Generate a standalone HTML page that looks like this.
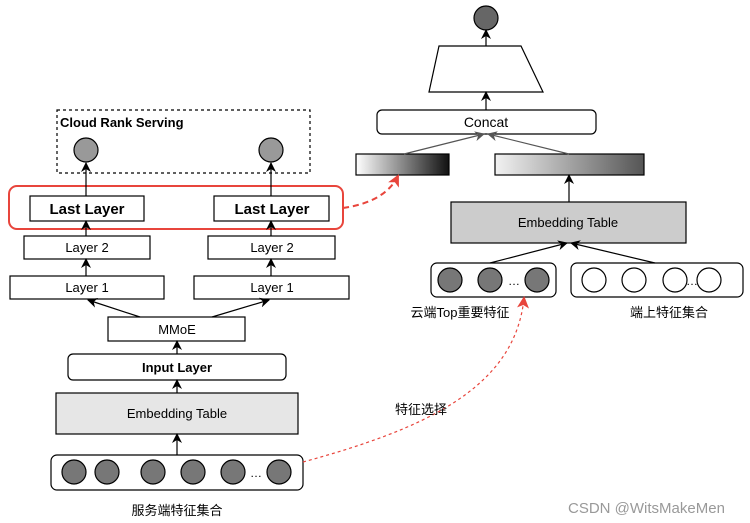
<!DOCTYPE html>
<html><head><meta charset="utf-8"><style>
html,body{margin:0;padding:0;background:#fff;width:750px;height:523px;overflow:hidden}
text{font-family:"Liberation Sans","Noto Sans CJK SC",sans-serif;fill:#000}
</style></head><body>
<svg width="750" height="523" viewBox="0 0 750 523" xmlns="http://www.w3.org/2000/svg">
<defs>
<marker id="a" markerWidth="10" markerHeight="10" refX="9" refY="5" orient="auto" markerUnits="userSpaceOnUse"><path d="M0,0 L10,5 L0,10 L3,5 z" fill="#000"/></marker>
<marker id="g" markerWidth="10" markerHeight="10" refX="9" refY="5" orient="auto" markerUnits="userSpaceOnUse"><path d="M0,0 L10,5 L0,10 L3,5 z" fill="#555"/></marker>
<marker id="r" markerWidth="12" markerHeight="12" refX="10" refY="6" orient="auto" markerUnits="userSpaceOnUse"><path d="M0,0 L12,6 L0,12 L3,6 z" fill="#e8453c"/></marker>
<linearGradient id="gl" x1="0" x2="1"><stop offset="0" stop-color="#fff"/><stop offset="1" stop-color="#111"/></linearGradient>
<linearGradient id="gr" x1="0" x2="1"><stop offset="0" stop-color="#f2f2f2"/><stop offset="1" stop-color="#555"/></linearGradient>
</defs>
<g stroke="#000" stroke-width="1.2" fill="#fff">
<rect x="57" y="110" width="253" height="63" stroke-dasharray="3,3"/>
<circle cx="86" cy="150" r="12" fill="#999"/>
<circle cx="271" cy="150" r="12" fill="#999"/>
<rect x="9" y="186" width="334" height="43" rx="8" stroke="#e8453c" stroke-width="2" fill="none"/>
<rect x="30" y="196" width="114" height="25"/>
<rect x="214" y="196" width="115" height="25"/>
<rect x="24" y="236" width="126" height="23"/>
<rect x="208" y="236" width="127" height="23"/>
<rect x="10" y="276" width="154" height="23"/>
<rect x="194" y="276" width="155" height="23"/>
<rect x="108" y="317" width="137" height="24"/>
<rect x="68" y="354" width="218" height="26" rx="5"/>
<rect x="56" y="393" width="242" height="41" fill="#e6e6e6"/>
<rect x="51" y="455" width="252" height="35" rx="6"/>
<g fill="#777"><circle cx="74" cy="472" r="12"/><circle cx="107" cy="472" r="12"/><circle cx="153" cy="472" r="12"/><circle cx="193" cy="472" r="12"/><circle cx="233" cy="472" r="12"/><circle cx="279" cy="472" r="12"/></g>
<g marker-end="url(#a)" fill="none">
<line x1="86" y1="196" x2="86" y2="163"/><line x1="271" y1="196" x2="271" y2="163"/>
<line x1="86" y1="236" x2="86" y2="221"/><line x1="271" y1="236" x2="271" y2="221"/>
<line x1="86" y1="276" x2="86" y2="259"/><line x1="271" y1="276" x2="271" y2="259"/>
<line x1="140" y1="317" x2="88" y2="300"/><line x1="212" y1="317" x2="269" y2="300"/>
<line x1="177" y1="354" x2="177" y2="341"/>
<line x1="177" y1="393" x2="177" y2="380"/>
<line x1="177" y1="455" x2="177" y2="434"/>
</g>
<circle cx="486" cy="18" r="12" fill="#666"/>
<path d="M439,46 L521,46 L543,92 L429,92 Z"/>
<rect x="377" y="110" width="219" height="24" rx="5"/>
<rect x="356" y="154" width="93" height="21" fill="url(#gl)"/>
<rect x="495" y="154" width="149" height="21" fill="url(#gr)"/>
<rect x="451" y="202" width="235" height="41" fill="#ccc"/>
<rect x="431" y="263" width="125" height="34" rx="6"/>
<rect x="571" y="263" width="172" height="34" rx="6"/>
<g fill="#777"><circle cx="450" cy="280" r="12"/><circle cx="490" cy="280" r="12"/><circle cx="537" cy="280" r="12"/></g>
<circle cx="594" cy="280" r="12"/><circle cx="634" cy="280" r="12"/><circle cx="675" cy="280" r="12"/><circle cx="709" cy="280" r="12"/>
<g marker-end="url(#a)" fill="none">
<line x1="486" y1="46" x2="486" y2="30"/>
<line x1="486" y1="110" x2="486" y2="92"/>
<line x1="569" y1="202" x2="569" y2="175"/>
<line x1="490" y1="263" x2="567" y2="243"/>
<line x1="655" y1="263" x2="571" y2="243"/>
</g>
<g marker-end="url(#g)" fill="none" stroke="#555">
<line x1="404" y1="154" x2="484" y2="134"/>
<line x1="569" y1="154" x2="488" y2="134"/>
</g>
</g>
<path d="M343,208 Q385,202 398,176" fill="none" stroke="#e8453c" stroke-width="2" stroke-dasharray="6,4" marker-end="url(#r)"/>
<path d="M303,462 C420,430 515,390 524,298" fill="none" stroke="#e8453c" stroke-width="1.2" stroke-dasharray="3,3" marker-end="url(#r)"/>
<g font-size="13">
<text x="60" y="127" font-weight="bold">Cloud Rank Serving</text>
<text x="87" y="214" font-size="15" font-weight="bold" text-anchor="middle">Last Layer</text>
<text x="272" y="214" font-size="15" font-weight="bold" text-anchor="middle">Last Layer</text>
<text x="87" y="252" text-anchor="middle">Layer 2</text>
<text x="272" y="252" text-anchor="middle">Layer 2</text>
<text x="87" y="292" text-anchor="middle">Layer 1</text>
<text x="272" y="292" text-anchor="middle">Layer 1</text>
<text x="177" y="334" text-anchor="middle">MMoE</text>
<text x="177" y="372" text-anchor="middle" font-weight="bold">Input Layer</text>
<text x="177" y="418" text-anchor="middle">Embedding Table</text>
<text x="256" y="477" font-size="12" text-anchor="middle">…</text>
<text x="177" y="515" text-anchor="middle">服务端特征集合</text>
<text x="486" y="127" text-anchor="middle" font-size="14">Concat</text>
<text x="568" y="227" text-anchor="middle">Embedding Table</text>
<text x="514" y="285" font-size="12" text-anchor="middle">…</text>
<text x="692" y="285" font-size="12" text-anchor="middle">…</text>
<text x="460" y="317" text-anchor="middle">云端Top重要特征</text>
<text x="669" y="317" text-anchor="middle">端上特征集合</text>
<text x="421" y="414" text-anchor="middle">特征选择</text>
<text x="568" y="513" font-size="15" style="fill:#999">CSDN @WitsMakeMen</text>
</g>
</svg>
</body></html>
